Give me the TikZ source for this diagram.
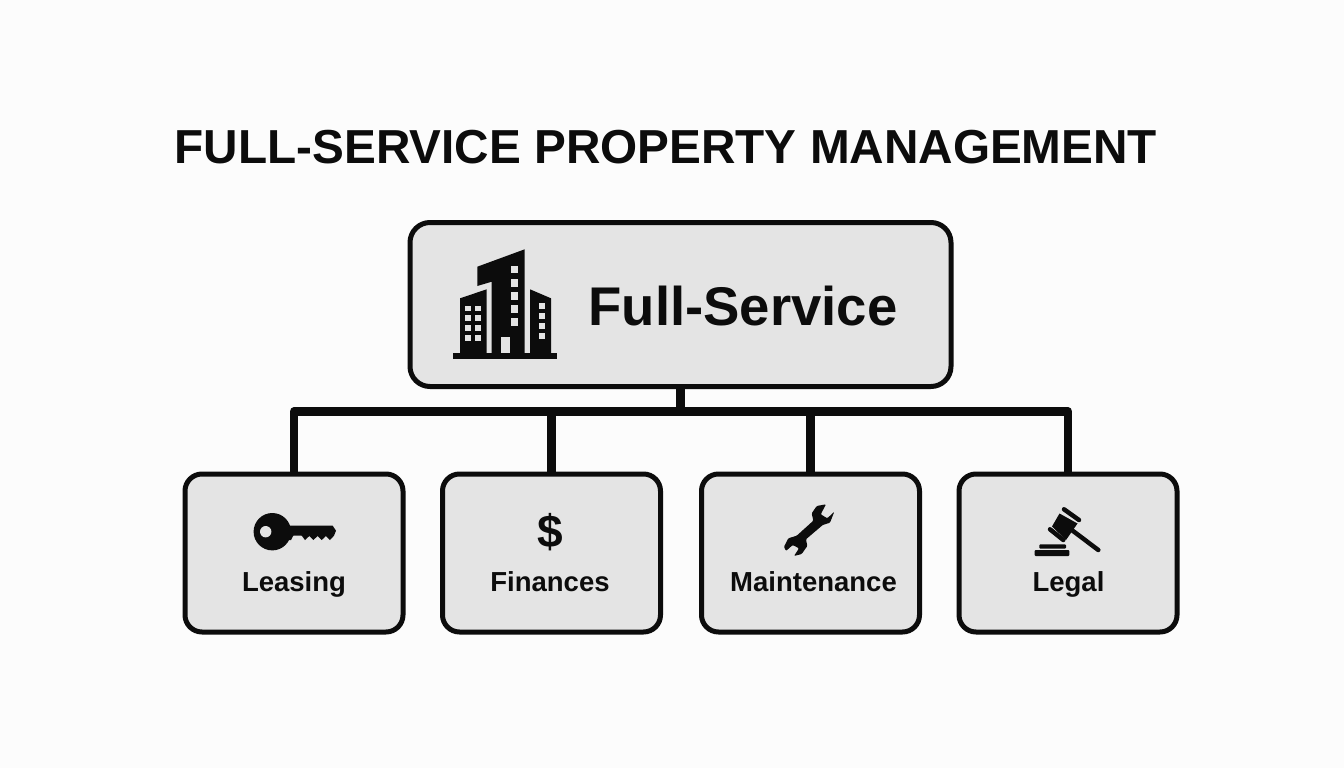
\documentclass[tikz,border=0pt]{standalone}
\usepackage{fontspec}
\setmainfont{Liberation Sans}
\definecolor{boxgray}{HTML}{E4E4E4}
\definecolor{inkblack}{HTML}{0C0C0C}
\tikzset{
  bigbox/.style={draw=inkblack, fill=boxgray, line width=5pt, rounded corners=20pt, minimum width=541pt, minimum height=164pt, inner sep=0pt, outer sep=0pt},
  smallbox/.style={draw=inkblack, fill=boxgray, line width=5pt, rounded corners=17pt, minimum width=218pt, minimum height=158pt, inner sep=0pt, outer sep=0pt},
  link/.style={draw=inkblack, line width=8.5pt, line join=round},
  boxlabel/.style={text=inkblack, inner sep=0pt, anchor=base, font=\fontsize{27.5}{27.5}\selectfont\bfseries},
  icon/.style={fill=inkblack, draw=none},
  window/.style={fill=boxgray, draw=none}
}
\begin{document}
\begin{tikzpicture}[x=1pt,y=-1pt]
\fill [white!99!black] (0,0) rectangle (1344,768);
\useasboundingbox (0,0) rectangle (1344,768);
\node [text=inkblack, inner sep=0pt, anchor=base, font=\fontsize{47.7}{48}\selectfont\bfseries] (title) at (666,163.5){FULL-SERVICE PROPERTY MANAGEMENT};
\coordinate (busleft) at (294,411.5);
\coordinate (busright) at (1068,411.5);
\node [bigbox] (fullservice) at (680.5,304.5){};
\node [smallbox] (leasing) at (294,553){};
\node [smallbox] (finances) at (551.5,553){};
\node [smallbox] (maintenance) at (810.5,553){};
\node [smallbox] (legal) at (1068,553){};
\draw [link] (leasing.north) -- (busleft) -- (busright) -- (legal.north);
\draw [link] (fullservice.south) -- (fullservice.south |- busleft);
\draw [link] (finances.north) -- (finances.north |- busleft);
\draw [link] (maintenance.north) -- (maintenance.north |- busleft);
\node [text=inkblack, inner sep=0pt, anchor=base, font=\fontsize{54.5}{55}\selectfont\bfseries] (fulltext) at (743,325){Full-Service};
\node [boxlabel] (leasingtext) at (294,591.5){Leasing};
\node [boxlabel] (financestext) at (550,591.5){Finances};
\node [boxlabel] (maintenancetext) at (813.5,591.5){Maintenance};
\node [boxlabel] (legaltext) at (1068.5,591.5){Legal};
\node [text=inkblack, inner sep=0pt, font=\fontsize{46}{46}\selectfont\bfseries] (dollar) at (550.5,532){\$};
\fill [icon] (453.3,353.3) rectangle (557.3,359);
\fill [icon] (477.3,266.7) -- (524.7,249.3) -- (524.7,353.5) -- (491.7,353.5) -- (491.7,281.7) -- (477.3,286) -- cycle;
\fill [icon] (460,298.3) -- (486.7,289.3) -- (486.7,353.5) -- (460,353.5) -- cycle;
\fill [icon] (530,289.3) -- (551,298.3) -- (551,353.5) -- (530,353.5) -- cycle;
\foreach \y in {265.7,279,292.3,305.3,318.3}
  \fill [window] (510.7,\y) rectangle ++(7,7.5);
\fill [window] (501.3,337.3) rectangle (510,353.3);
\foreach \y in {305.7,315.3,325,335} {
  \fill [window] (465.3,\y) rectangle ++(5.7,5.7);
  \fill [window] (475,\y) rectangle ++(5.7,5.7);
}
\foreach \y in {303.3,313.3,323,332.7}
  \fill [window] (538.7,\y) rectangle ++(6,6);
\fill [icon] (272.3,531.7) circle [radius=18.7];
\fill [window] (265.7,531.7) circle [radius=5.7];
\fill [icon] (288,525.7) -- (332.7,525.7) -- (336,530.7) -- (334,535.7) -- (330,540) -- (326,536) -- (321.7,540) -- (317.7,536) -- (313.3,540) -- (309.3,536) -- (305,540) -- (301.7,535.7) -- (293.3,535.7) -- (291,540) -- (284,540) -- cycle;
\fill [icon, rounded corners=1pt] (826,504.3) -- (816.7,506) -- (811.7,513.3) -- (813.3,520.7) -- (796.7,535.7) -- (788.3,538.3) -- (784,546.7) -- (786,551) -- (792.7,545) -- (799,548.3) -- (794,556) -- (801.7,554) -- (807.3,546) -- (806,539.3) -- (822.7,525) -- (830,522.7) -- (834.3,511.7) -- (827.3,518.3) -- (820.7,514.3) -- cycle;
\fill [icon, rounded corners=1pt] (1034.7,550) rectangle (1069.3,556);
\fill [icon, rounded corners=1pt] (1039.3,544.3) rectangle (1066,548.7);
\fill [icon] (1059.5,513.5) -- (1077.5,523.5) -- (1066,540) -- (1052,526.5) -- cycle;
\draw [inkblack, line width=4.5pt, line cap=round] (1064,509.3) -- (1079,520);
\draw [inkblack, line width=4.5pt, line cap=round] (1050,529.3) -- (1063.3,540);
\draw [inkblack, line width=4.5pt, line cap=round] (1071.7,530) -- (1098.3,550);
\end{tikzpicture}
\end{document}
